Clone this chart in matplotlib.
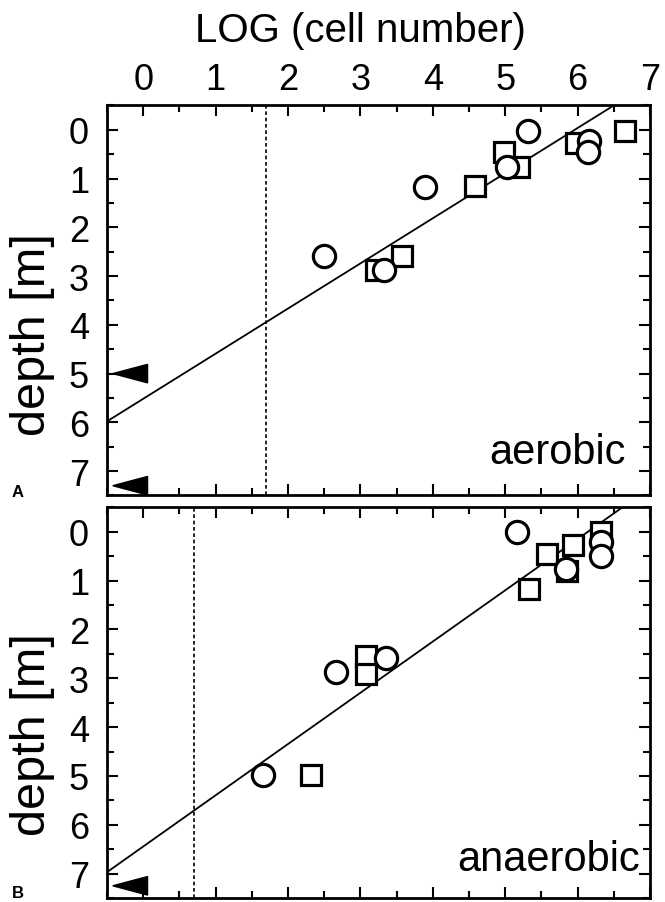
import matplotlib
matplotlib.use('Agg')
import matplotlib.pyplot as plt
from matplotlib.ticker import MultipleLocator

plt.rcParams['font.family'] = ['Liberation Sans', 'DejaVu Sans']

# ==========================================
# DATA
# ==========================================
# panel A - aerobic
squares_a_x = [4.98, 5.19, 5.98, 6.65, 4.58, 3.58, 3.21]
squares_a_y = [0.46, 0.77, 0.26, 0.02, 1.16, 2.58, 2.88]
circles_a_x = [5.31, 5.03, 6.16, 6.15, 3.89, 3.32, 2.50]
circles_a_y = [0.02, 0.77, 0.22, 0.46, 1.17, 2.88, 2.58]
fit_a_x = [-0.5, 6.5]
fit_a_y = [5.98, -0.5]
detect_a = 1.69
arrows_a = [5.0, 7.3]

# panel B - anaerobic
squares_b_x = [5.58, 5.93, 6.33, 5.85, 5.33, 3.08, 3.08, 2.32]
squares_b_y = [0.46, 0.27, 0.00, 0.80, 1.18, 2.54, 2.92, 4.98]
circles_b_x = [5.16, 6.32, 6.33, 5.84, 2.66, 3.35, 1.65]
circles_b_y = [0.00, 0.22, 0.50, 0.77, 2.88, 2.58, 4.98]
fit_b_x = [-0.5, 6.62]
fit_b_y = [6.97, -0.5]
detect_b = 0.70
arrows_b = [7.25]

x_ticks = [0, 1, 2, 3, 4, 5, 6, 7]
y_ticks = [0, 1, 2, 3, 4, 5, 6, 7]


def draw_panel(ax, sq_x, sq_y, ci_x, ci_y, fit_x, fit_y, detect, arrows,
               label, label_x, label_y, top_labels):
    ax.set_xlim(-0.5, 7.0)
    ax.set_ylim(7.5, -0.5)

    ax.plot(fit_x, fit_y, color='black', lw=1.3, zorder=2)
    ax.axvline(detect, color='black', lw=1.2, linestyle=(0, (2.2, 1.6)), zorder=1)

    ax.plot(sq_x, sq_y, linestyle='none', marker='s', ms=15, mfc='white',
            mec='black', mew=2.3, zorder=3)
    ax.plot(ci_x, ci_y, linestyle='none', marker='o', ms=16, mfc='white',
            mec='black', mew=2.3, zorder=4)

    # black arrow heads at the left edge
    for ya in arrows:
        ax.fill([-0.42, 0.06, 0.06], [ya, ya - 0.19, ya + 0.19],
                color='black', zorder=5, clip_on=True)

    ax.text(label_x, label_y, label, ha='right', va='baseline', fontsize=30)

    ax.set_xticks(x_ticks)
    ax.set_yticks(y_ticks)
    ax.xaxis.set_minor_locator(MultipleLocator(0.5))
    ax.yaxis.set_minor_locator(MultipleLocator(0.5))
    ax.tick_params(which='both', direction='in', top=True, bottom=True,
                   left=True, right=True, width=1.5)
    ax.tick_params(which='major', length=8)
    ax.tick_params(which='minor', length=5)
    ax.tick_params(axis='x', labelbottom=False, labeltop=top_labels,
                   labelsize=26, pad=6)
    ax.tick_params(axis='y', labelsize=26, pad=13)
    for s in ax.spines.values():
        s.set_linewidth(2.0)


fig = plt.figure(figsize=(6.65, 9.03), dpi=100)
ax1 = fig.add_axes([0.1609, 0.4502, 0.8165, 0.4319])
ax2 = fig.add_axes([0.1609, 0.0044, 0.8165, 0.4327])

draw_panel(ax1, squares_a_x, squares_a_y, circles_a_x, circles_a_y,
           fit_a_x, fit_a_y, detect_a, arrows_a, 'aerobic', 6.67, 6.84, True)
draw_panel(ax2, squares_b_x, squares_b_y, circles_b_x, circles_b_y,
           fit_b_x, fit_b_y, detect_b, arrows_b, 'anaerobic', 6.86, 6.93, False)

fig.text(360 / 665, 1 - 31 / 903, 'LOG (cell number)', ha='center',
         va='center', fontsize=29)
fig.text(33 / 665, 1 - 335 / 903, 'depth [m]', rotation=90, ha='center',
         va='center', fontsize=35)
fig.text(33 / 665, 1 - 735 / 903, 'depth [m]', rotation=90, ha='center',
         va='center', fontsize=35)
fig.text(12 / 665, 1 - 497 / 903, 'A', fontsize=12, fontweight='bold')
fig.text(12 / 665, 1 - 898 / 903, 'B', fontsize=12, fontweight='bold')

fig.savefig('out.png', dpi=100)
